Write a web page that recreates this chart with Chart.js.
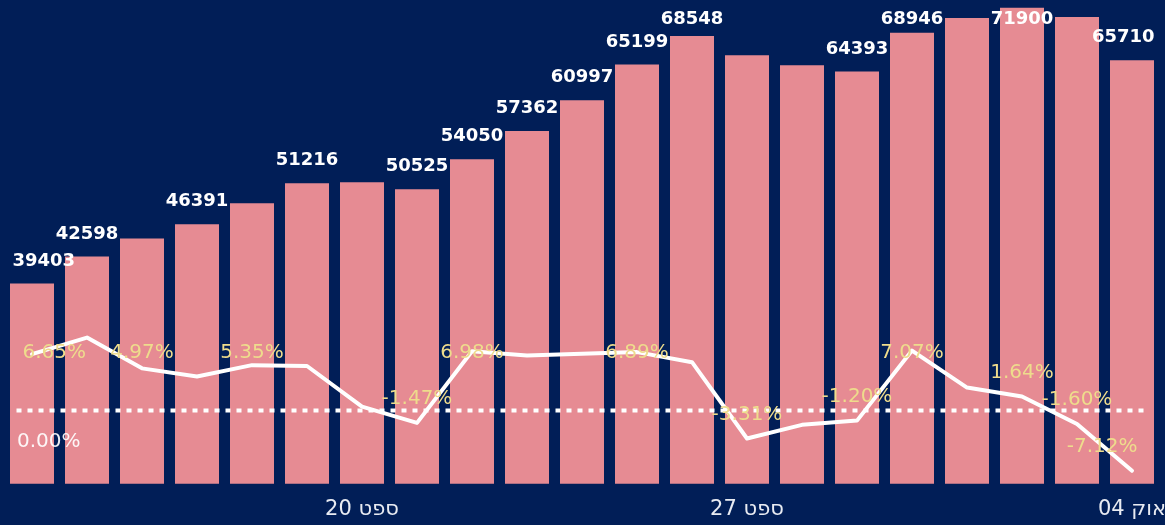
<!DOCTYPE html>
<html><head><meta charset="utf-8">
<script src="https://cdn.jsdelivr.net/npm/chart.js@4.4.1/dist/chart.umd.min.js"></script>
<style>
html,body{margin:0;padding:0;background:#011e57;overflow:hidden;width:1165px;height:525px;}
#wrap{position:absolute;left:0;top:0;width:1240px;height:541px;}
</style></head><body>
<div id="wrap"><canvas id="c"></canvas></div>
<script>
const categories = ['14 ספט','15 ספט','16 ספט','17 ספט','18 ספט','19 ספט','20 ספט','21 ספט','22 ספט','23 ספט','24 ספט','25 ספט','26 ספט','27 ספט','28 ספט','29 ספט','30 ספט','01 אוק','02 אוק','03 אוק','04 אוק'];
const dailyValues = [39403,42598,44720,46391,48850,51216,51330,50525,54050,57362,60997,65199,68548,66300,65130,64393,68946,70670,71900,70790,65710];
const showValueLabel = [true,true,false,true,false,true,false,true,true,true,true,true,true,false,false,true,true,false,true,false,true];
const changePct = [6.65,8.6,4.97,4.0,5.35,5.25,0.45,-1.47,6.98,6.5,6.7,6.89,5.7,-3.31,-1.7,-1.20,7.07,2.7,1.64,-1.60,-7.12];
const showPctLabel = [true,false,true,false,true,false,false,true,true,false,false,true,false,true,false,true,true,false,true,true,true];
const zeroLineLabel = '0.00%';
const tickEvery = 7, tickOffset = 6;

const BG = '#011e57', BAR = '#e68b93', PCT = '#eedc8c';

const overlay = {
  id: 'overlay',
  afterDatasetDraw(chart, args) {
    if (args.index !== 1) return;
    const {ctx, chartArea} = chart;
    const y0 = chart.scales.y1.getPixelForValue(0);
    ctx.save();
    ctx.strokeStyle = '#ffffff';
    ctx.lineWidth = 4;
    ctx.setLineDash([5, 6]);
    ctx.beginPath();
    ctx.moveTo(chartArea.left + 12, y0);
    ctx.lineTo(chartArea.right - 16, y0);
    ctx.stroke();
    ctx.restore();
  },
  afterDatasetsDraw(chart) {
    const {ctx, chartArea} = chart;
    ctx.save();
    ctx.textBaseline = 'middle';
    ctx.textAlign = 'left';
    ctx.font = 'bold 18px "DejaVu Sans"';
    ctx.fillStyle = '#ffffff';
    const bars = chart.getDatasetMeta(1).data;
    bars.forEach((b, i) => {
      if (!showValueLabel[i]) return;
      const t = String(dailyValues[i]);
      const w = ctx.measureText(t).width;
      let x = b.x - w / 2;
      x = Math.max(x, chartArea.left + 8);
      x = Math.min(x, chartArea.right - 5 - w);
      const y = Math.max(b.y - 22.5, chartArea.top + 19);
      ctx.fillText(t, x, y);
    });
    ctx.font = '20px "DejaVu Sans"';
    ctx.fillStyle = PCT;
    const y1 = chart.scales.y1;
    const maxLab = Math.max(...changePct.filter((v, i) => showPctLabel[i]));
    const ceilY = y1.getPixelForValue(maxLab) + 2;
    const pts = chart.getDatasetMeta(0).data;
    pts.forEach((p, i) => {
      if (!showPctLabel[i]) return;
      const t = changePct[i].toFixed(2) + '%';
      const w = ctx.measureText(t).width;
      let x = p.x - w / 2;
      x = Math.max(x, chartArea.left + 18);
      x = Math.min(x, chartArea.right - 22 - w);
      const y = Math.max(p.y - 24, ceilY);
      ctx.fillText(t, x, y);
    });
    ctx.fillStyle = 'rgba(255,255,255,0.92)';
    ctx.fillText(zeroLineLabel, chartArea.left + 12.5, y1.getPixelForValue(0) + 31);
    ctx.restore();
  }
};

new Chart(document.getElementById('c'), {
  type: 'bar',
  data: {
    labels: categories,
    datasets: [
      {
        type: 'line', data: changePct, yAxisID: 'y1', order: 0,
        borderColor: '#ffffff', borderWidth: 4, pointRadius: 0, tension: 0,
        borderJoinStyle: 'round', borderCapStyle: 'round', fill: false
      },
      {
        type: 'bar', data: dailyValues, yAxisID: 'y', order: 1,
        backgroundColor: BAR, borderWidth: 0,
        categoryPercentage: 0.8, barPercentage: 1.0
      }
    ]
  },
  options: {
    responsive: true, maintainAspectRatio: false, animation: false, devicePixelRatio: 1,
    layout: { padding: { left: 4.5, right: 80.5, top: 0, bottom: 6 } },
    plugins: { legend: { display: false }, tooltip: { enabled: false } },
    scales: {
      x: {
        offset: true,
        grid: { display: false, drawTicks: false },
        border: { display: false },
        ticks: {
          autoSkip: false, maxRotation: 0, minRotation: 0, padding: 13,
          color: '#e8ebf2', font: { family: '"DejaVu Sans"', size: 21 },
          callback: (v, i) => (i % tickEvery === tickOffset ? categories[i] : '')
        }
      },
      y: { display: false, min: 15823, max: 72800 },
      y1: { display: false, min: -8.66, max: 48.46 }
    }
  },
  plugins: [overlay]
});
</script>
</body></html>
